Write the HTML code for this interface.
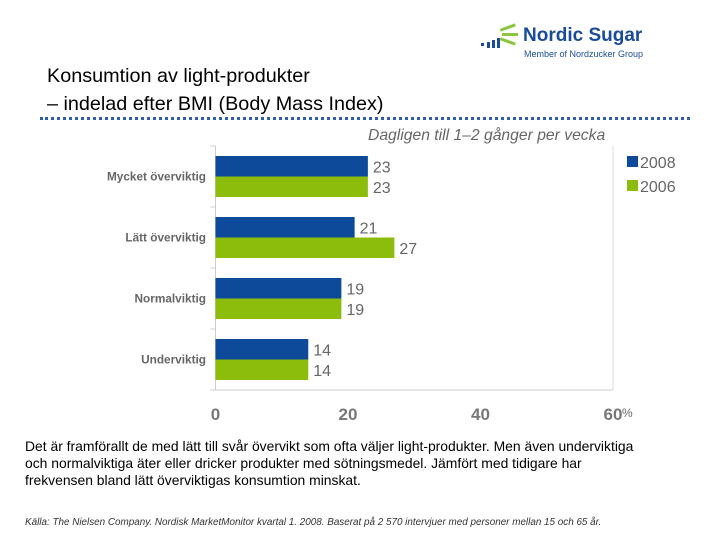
<!DOCTYPE html>
<html><head><meta charset="utf-8"><style>
body{margin:0;width:720px;height:540px;background:#fff;font-family:"Liberation Sans",sans-serif;position:relative;overflow:hidden}
.a{position:absolute;white-space:nowrap}
</style></head><body>
<div class="a" style="left:478px;top:22px;width:180px;height:40px">
<svg width="50" height="40">
<g fill="#8cc63f"><rect x="22" y="4" width="16" height="3" transform="rotate(-20 30 6)"/><rect x="24" y="11" width="16" height="3"/><rect x="22" y="18" width="16" height="3" transform="rotate(20 30 19)"/></g>
<g fill="#1a4b9b"><rect x="3" y="21" width="3" height="3"/><rect x="9" y="20" width="3" height="6"/><rect x="14" y="18" width="3" height="8"/><rect x="19" y="16" width="3" height="10"/></g></svg>
<div class="a" style="left:45px;top:3px;font-size:19px;font-weight:bold;color:#1a4b9b">Nordic Sugar</div>
<div class="a" style="left:46px;top:27px;font-size:9px;color:#1a4b9b">Member of Nordzucker Group</div>
</div>
<div class="a" style="left:47px;top:62px;font-size:19.8px;line-height:28px;color:#000">Konsumtion av light-produkter<br>– indelad efter BMI (Body Mass Index)</div>
<div class="a" style="left:40px;top:117px;width:650px;border-top:3px dotted #2f5fa8"></div>
<div class="a" style="left:368px;top:127px;font-size:15.7px;font-style:italic;color:#666">Dagligen till 1–2 gånger per vecka</div>
<svg class="a" style="left:0;top:0" width="720" height="540" id="chart"></svg>
<div class="a" style="left:25px;top:438px;font-size:13.9px;line-height:17px;color:#000">Det är framförallt de med lätt till svår övervikt som ofta väljer light-produkter. Men även underviktiga<br>och normalviktiga äter eller dricker produkter med sötningsmedel. Jämfört med tidigare har<br>frekvensen bland lätt överviktigas konsumtion minskat.</div>
<div class="a" style="left:25px;top:517px;font-size:9.9px;font-style:italic;color:#333">Källa: The Nielsen Company. Nordisk MarketMonitor kvartal 1. 2008. Baserat på 2 570 intervjuer med personer mellan 15 och 65 år.</div>
<script>
const categories=["Mycket överviktig","Lätt överviktig","Normalviktig","Underviktig"];
const s2008=[23,21,19,14];
const s2006=[23,27,19,14];
const ticks=[0,20,40,60];
(function(){
const NS="http://www.w3.org/2000/svg",svg=document.getElementById('chart');
const x0=215.5,x1=613,pTop=146,pBot=390,maxV=60;
const X=v=>x0+(x1-x0)*v/maxV;
const band=(pBot-pTop)/categories.length;
function el(t,a){const e=document.createElementNS(NS,t);for(const k in a)e.setAttribute(k,a[k]);svg.appendChild(e);return e;}
let e=el('line',{x1:x0,y1:pTop,x2:x0,y2:pBot,stroke:'#ccc'});


e=el('line',{x1:x0,y1:pBot,x2:x1,y2:pBot,stroke:'#ccc'});


e=el('line',{x1:x1,y1:pTop,x2:x1,y2:pBot,stroke:'#ddd'});


for(let i=0;i<=categories.length;i++){const y=pTop+i*band;e=el('line',{x1:x0-5,y1:y,x2:x0,y2:y,stroke:'#ccc'});

}
ticks.forEach(t=>{e=el('text',{x:X(t),y:420,'text-anchor':'middle','font-size':17,'font-weight':'bold',fill:'#777','font-family':'Liberation Sans'});e.textContent=t;

});
e=el('text',{x:X(60)+9,y:417,'font-size':12,fill:'#666','font-family':'Liberation Sans'});e.textContent='%';


const bh=20.5;
categories.forEach((c,i)=>{const cy=pTop+band*i+band/2;
 e=el('text',{x:206,y:cy+4,'text-anchor':'end','font-size':11.8,'font-weight':'bold',fill:'#666','font-family':'Liberation Sans'});e.textContent=c;
 
 
 [[s2008,'#0d4a9a',cy-bh],[s2006,'#8cbc0c',cy]].forEach(([s,col,y])=>{
  e=el('rect',{x:x0,y:y,width:X(s[i])-x0,height:bh,fill:col});
  
  
  e=el('text',{x:X(s[i])+5,y:y+bh/2+6,'font-size':16,fill:'#666','font-family':'Liberation Sans'});e.textContent=s[i];
  
  
 });
});
[['2008','#0d4a9a',162],['2006','#8cbc0c',186]].forEach(([t,c,y])=>{
 e=el('rect',{x:627,y:y-6,width:11,height:11,fill:c});
 
 
 e=el('text',{x:640,y:y+6,'font-size':16,fill:'#666','font-family':'Liberation Sans'});e.textContent=t;
 
 
});
})();
</script>
</body></html>
